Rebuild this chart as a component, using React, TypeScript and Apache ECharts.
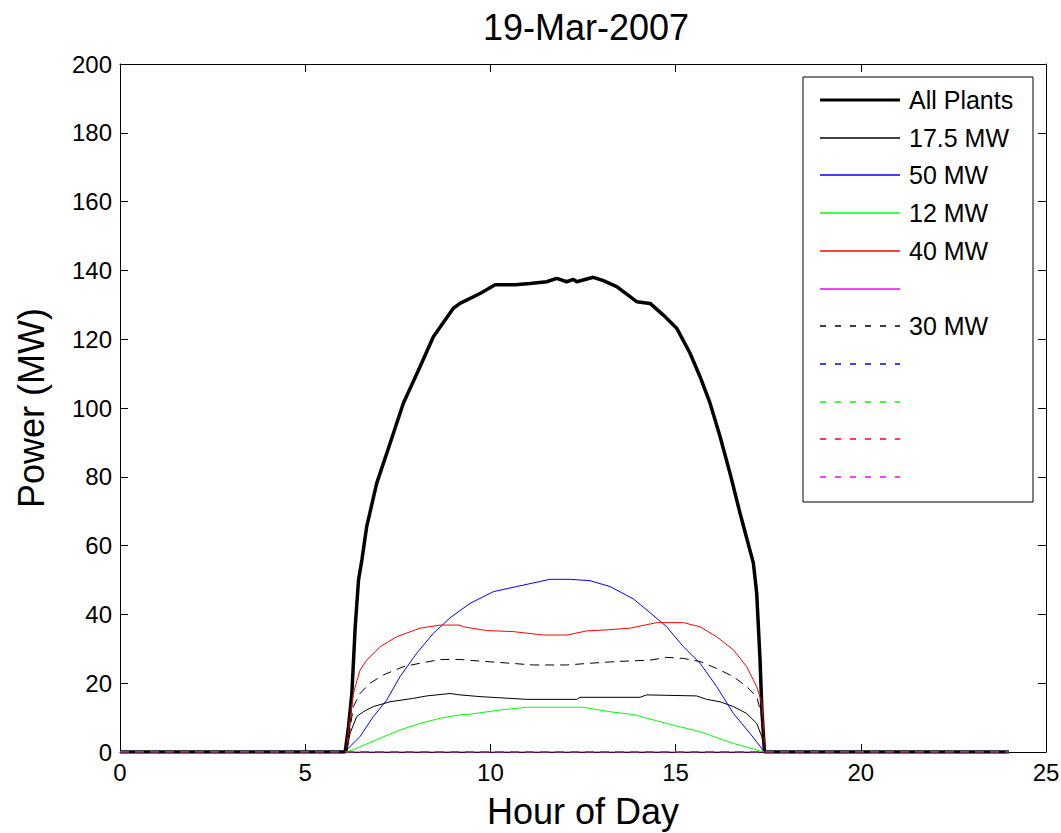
import React, { useEffect, useRef } from "react";
import * as echarts from "echarts";

const TITLE = "19-Mar-2007";
const X_NAME = "Hour of Day";
const Y_NAME = "Power (MW)";

// [hour, MW]
const allPlants: number[][] = [
  [0, 0], [6.08, 0], [6.17, 7.4], [6.26, 17], [6.35, 36.4], [6.44, 50], [6.53, 55.8],
  [6.66, 65.5], [6.93, 78.1], [7.29, 89.7], [7.65, 101.4], [8.1, 112.0], [8.46, 120.7],
  [9.0, 129.0], [9.18, 130.4], [9.72, 133.3], [10.13, 135.8], [10.67, 135.8], [11.07, 136.2],
  [11.52, 136.7], [11.79, 137.7], [12.06, 136.7], [12.24, 137.4], [12.33, 136.7], [12.78, 138.0],
  [13.05, 137.0], [13.41, 135.3], [13.95, 130.9], [14.31, 130.4], [14.67, 127.0], [15.03, 123.2],
  [15.39, 115.9], [15.66, 109.1], [15.93, 101.4], [16.2, 91.7], [16.47, 81.0], [16.74, 69.4],
  [17.1, 54.9], [17.19, 46.1], [17.28, 26.7], [17.33, 12.2], [17.4, 0], [24, 0],
];

const plant17_5: number[][] = [
  [6.12, 0], [6.21, 5.4], [6.39, 10.3], [6.57, 11.7], [6.84, 13.2], [7.29, 14.6], [7.92, 15.6],
  [8.28, 16.3], [8.91, 17.0], [9.18, 16.6], [9.72, 16.1], [10.98, 15.3], [12.33, 15.3],
  [12.42, 15.9], [14.04, 15.9], [14.22, 16.6], [15.57, 16.3], [15.84, 15.3], [16.2, 14.6],
  [16.56, 13.2], [16.92, 11.2], [17.19, 8.3], [17.33, 4.4], [17.4, 0],
];

const plant50: number[][] = [
  [6.12, 0.6], [6.48, 4.5], [6.84, 10.3], [7.2, 15.1], [7.56, 21.9], [8.01, 28.7], [8.46, 34.5],
  [8.91, 39.0], [9.45, 43.2], [10.08, 46.6], [10.71, 48.1], [11.61, 50.2], [12.15, 50.2],
  [12.69, 49.8], [13.23, 48.1], [13.86, 44.5], [14.31, 40.5], [14.76, 36.4], [15.21, 30.6],
  [15.66, 25.8], [16.11, 19.0], [16.56, 11.2], [17.01, 5.4], [17.4, 0],
];

const plant12: number[][] = [
  [6.12, 0], [6.48, 1.5], [7.02, 4.0], [7.56, 6.4], [8.1, 8.3], [8.64, 9.8], [9.18, 10.8],
  [9.45, 11.0], [10.26, 12.2], [10.98, 13.0], [12.51, 13.0], [13.23, 11.7], [13.86, 10.9],
  [14.76, 8.3], [15.66, 5.9], [16.56, 2.5], [17.19, 0.6], [17.4, 0],
];

const plant40: number[][] = [
  [6.12, 1.5], [6.21, 9.3], [6.3, 17], [6.48, 23.8], [6.66, 26.7], [7.02, 30.6], [7.47, 33.5],
  [8.1, 36.0], [8.64, 36.9], [9.18, 36.9], [9.27, 36.4], [9.9, 35.3], [10.62, 35.0],
  [11.43, 34.0], [12.06, 34.0], [12.6, 35.2], [13.14, 35.5], [13.77, 36.0], [14.49, 37.6],
  [15.21, 37.6], [15.66, 36.4], [16.11, 33.5], [16.56, 29.7], [16.92, 24.8], [17.19, 19.0],
  [17.33, 14.2], [17.37, 7.4], [17.4, 0],
];

const plantMagenta: number[][] = [[6.12, 0], [17.4, 0]];

const plant30: number[][] = [
  [6.12, 0], [6.3, 13.2], [6.48, 17], [6.75, 20], [7.11, 22.4], [7.65, 24.8], [8.1, 25.8],
  [8.64, 26.9], [9.18, 26.9], [9.63, 26.5], [10.53, 25.8], [11.16, 25.3], [12.06, 25.3],
  [12.69, 25.8], [13.41, 26.3], [14.31, 26.7], [14.76, 27.5], [15.21, 27.2], [15.66, 26.3],
  [16.11, 24.3], [16.56, 21.9], [16.92, 19.0], [17.19, 16.1], [17.33, 10.3], [17.4, 0],
];

const zeroDay: number[][] = [[0, 0], [24, 0]];

const X_TICKS = [0, 5, 10, 15, 20, 25];
const Y_TICKS = [0, 20, 40, 60, 80, 100, 120, 140, 160, 180, 200];

const seriesDefs = [
  { name: "All Plants", data: allPlants, color: "#000000", width: 3.5, dashed: false },
  { name: "17.5 MW", data: plant17_5, color: "#000000", width: 1, dashed: false },
  { name: "50 MW", data: plant50, color: "#0000ff", width: 1, dashed: false },
  { name: "12 MW", data: plant12, color: "#00ff00", width: 1, dashed: false },
  { name: "40 MW", data: plant40, color: "#ff0000", width: 1, dashed: false },
  { name: "", data: plantMagenta, color: "#ff00ff", width: 1, dashed: false },
  { name: "30 MW", data: plant30, color: "#000000", width: 1, dashed: true },
  { name: "", data: zeroDay, color: "#0000ff", width: 1, dashed: true },
  { name: "", data: zeroDay, color: "#00ff00", width: 1, dashed: true },
  { name: "", data: zeroDay, color: "#ff0000", width: 1, dashed: true },
  { name: "", data: zeroDay, color: "#ff00ff", width: 1, dashed: true },
];

const FONT = "'Liberation Sans', Arial, sans-serif";
const PLOT_DASH = [9, 6];
const LEGEND_DASH = [6, 9];

export default function App() {
  const ref = useRef<HTMLDivElement>(null);
  useEffect(() => {
    if (!ref.current) return;
    const chart = echarts.init(ref.current, undefined, { renderer: "svg" });

    const legendX = 803, legendY = 77, legendW = 230, legendH = 425;
    const rowY0 = 100, rowGap = 37.7;
    const legendChildren: any[] = [
      {
        type: "rect",
        shape: { x: legendX, y: legendY, width: legendW, height: legendH },
        style: { fill: "#ffffff", stroke: "#000000", lineWidth: 1 },
      },
    ];
    seriesDefs.forEach((s, i) => {
      const y = Math.round(rowY0 + i * rowGap);
      legendChildren.push({
        type: "line",
        shape: { x1: 820, y1: y, x2: 900, y2: y },
        style: {
          stroke: s.color,
          lineWidth: s.width === 1 ? 1.3 : 3,
          lineDash: s.dashed ? LEGEND_DASH : null,
        },
      });
      if (s.name) {
        legendChildren.push({
          type: "text",
          x: 909,
          y: y,
          style: {
            text: s.name,
            fill: "#000000",
            font: `25px ${FONT}`,
            verticalAlign: "middle",
            align: "left",
          },
        });
      }
    });

    const axisCommon = {
      type: "value" as const,
      axisLine: { show: true, onZero: false, lineStyle: { color: "#000", width: 1 } },
      axisTick: { show: true, inside: true, length: 8, lineStyle: { color: "#000" } },
      splitLine: { show: false },
    };

    chart.setOption({
      animation: false,
      backgroundColor: "#ffffff",
      title: {
        text: TITLE,
        left: 581,
        top: 4,
        textAlign: "center",
        textStyle: { fontSize: 36, fontWeight: "normal", fontFamily: FONT, color: "#000" },
      },
      grid: {
        left: 120,
        top: 64,
        right: 15,
        bottom: 81,
        containLabel: false,
        outerBoundsMode: "none",
      },
      xAxis: [
        {
          ...axisCommon,
          min: 0,
          max: 25,
          interval: 5,
          position: "bottom",
          name: X_NAME,
          nameLocation: "middle",
          nameGap: 41,
          nameTextStyle: { fontSize: 36, fontFamily: FONT, color: "#000" },
          axisLabel: {
            fontSize: 24,
            fontFamily: FONT,
            color: "#000",
            margin: 8,
            formatter: (v: number) => (X_TICKS.includes(v) ? String(v) : ""),
          },
        },
        {
          ...axisCommon,
          min: 0,
          max: 25,
          interval: 5,
          position: "top",
          axisLabel: { show: false },
        },
      ],
      yAxis: [
        {
          ...axisCommon,
          min: 0,
          max: 200,
          interval: 20,
          position: "left",
          name: Y_NAME,
          nameLocation: "middle",
          nameGap: 71,
          nameTextStyle: { fontSize: 36, fontFamily: FONT, color: "#000" },
          axisLabel: {
            fontSize: 24,
            fontFamily: FONT,
            color: "#000",
            margin: 8,
            formatter: (v: number) => (Y_TICKS.includes(v) ? String(v) : ""),
          },
        },
        {
          ...axisCommon,
          min: 0,
          max: 200,
          interval: 20,
          position: "right",
          axisLabel: { show: false },
        },
      ],
      series: seriesDefs.map((s) => ({
        type: "line",
        name: s.name,
        data: s.data,
        showSymbol: false,
        symbol: "none",
        xAxisIndex: 0,
        yAxisIndex: 0,
        lineStyle: {
          color: s.color,
          width: s.width,
          type: s.dashed ? PLOT_DASH : "solid",
        },
        itemStyle: { color: s.color },
        emphasis: { disabled: true },
        silent: true,
      })),
      graphic: [{ type: "group", children: legendChildren }],
    });

    return () => chart.dispose();
  }, []);

  return (
    <div
      ref={ref}
      style={{ position: "absolute", left: 0, top: 0, width: 1061, height: 833 }}
    />
  );
}
